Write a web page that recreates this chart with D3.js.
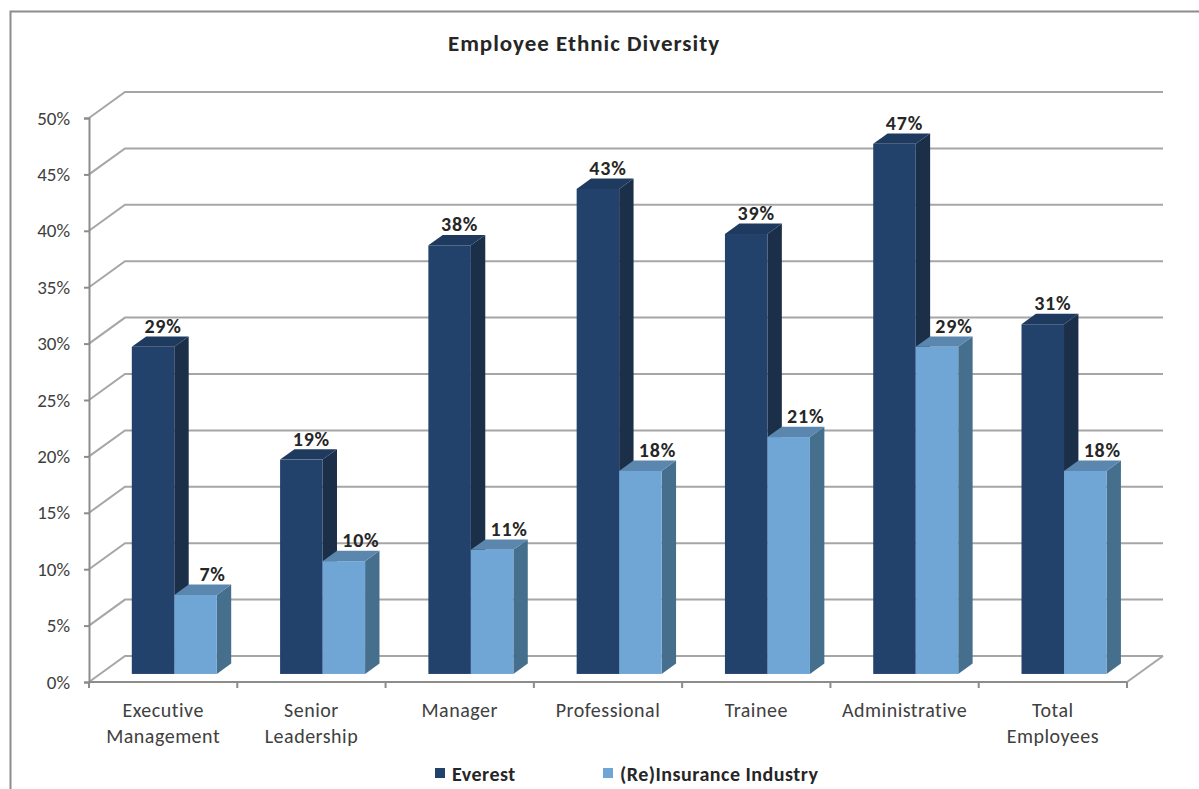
<!DOCTYPE html>
<html>
<head>
<meta charset="utf-8">
<script src="https://cdn.jsdelivr.net/npm/d3@7"></script>
<style>
  body { margin: 0; background: #fff; }
  text { font-family: Carlito, Lato, "Open Sans", sans-serif; }
</style>
</head>
<body>
<script>
// chart values
let categories = [['Executive', 'Management'], ['Senior', 'Leadership'], ['Manager'], ['Professional'],
  ['Trainee'], ['Administrative'], ['Total', 'Employees']]
let everest = [29, 19, 38, 43, 39, 47, 31]
let industry = [7, 10, 11, 18, 21, 29, 18]
let seriesNames = ['Everest', '(Re)Insurance Industry']
let yTicks = [0, 5, 10, 15, 20, 25, 30, 35, 40, 45, 50]

// measurements
let m = {
  width: 1199,
  height: 789,
  left: 89,
  right: 1127,
  top: 118,
  bottom: 682,
  depthX: 36,
  depthY: -26,
  barFront: 0.31,
  barDepth: 0.4,
  barWidth: 42.5,
}

let colors = {
  dark: { front: '#22416b', side: '#1c2f49', top: '#1f3a5f' },
  light: { front: '#70a6d6', side: '#466f8e', top: '#5b86ae' },
}

let svg = d3.select('body')
  .append('svg')
  .attr('width', m.width)
  .attr('height', m.height)

// outer chart border
svg.append('path')
  .attr('d', 'M10.5,789 L10.5,11.5 L1199,11.5')
  .attr('fill', 'none')
  .attr('stroke', '#8c8c8c')
  .attr('stroke-width', 2)

svg.append('text')
  .attr('x', 584)
  .attr('y', 43)
  .attr('text-anchor', 'middle')
  .attr('dominant-baseline', 'central')
  .attr('font-size', 23)
  .attr('font-weight', 'bold')
  .attr('letter-spacing', 1)
  .attr('fill', '#262626')
  .text('Employee Ethnic Diversity')

let yScale = d3.scaleLinear()
  .domain([0, 50])
  .range([m.bottom, m.top])

let xScale = d3.scaleBand()
  .domain(d3.range(categories.length))
  .range([m.left, m.right])

let grid = svg.append('g')

// back wall gridlines with diagonal on the left side wall
yTicks.forEach(function(t) {
  let y = yScale(t)
  grid.append('path')
    .attr('d', 'M' + m.left + ',' + y + ' L' + (m.left + m.depthX) + ',' + (y + m.depthY) +
      ' L' + (m.right + m.depthX) + ',' + (y + m.depthY))
    .attr('fill', 'none')
    .attr('stroke', '#a6a6a6')
    .attr('stroke-width', 2)
})

// floor right edge
grid.append('line')
  .attr('x1', m.right).attr('y1', m.bottom)
  .attr('x2', m.right + m.depthX).attr('y2', m.bottom + m.depthY)
  .attr('stroke', '#a6a6a6')
  .attr('stroke-width', 2)

// y axis
let yAxis = d3.axisLeft(yScale)
  .tickValues(yTicks)
  .tickSize(5)
  .tickFormat(function(d) { return d + '%' })

let yg = svg.append('g')
  .attr('transform', 'translate(' + m.left + ',0)')
  .call(yAxis)
yg.select('.domain').attr('stroke', '#8c8c8c').attr('stroke-width', 2)
yg.selectAll('.tick line').attr('stroke', '#8c8c8c').attr('stroke-width', 2)
yg.selectAll('.tick text')
  .attr('font-size', 19)
  .attr('fill', '#404040')
  .attr('x', -19)
  .style('font-family', 'Carlito, Lato, sans-serif')

// x axis line and ticks
let xg = svg.append('g')
xg.append('line')
  .attr('x1', m.left).attr('x2', m.right)
  .attr('y1', m.bottom).attr('y2', m.bottom)
  .attr('stroke', '#8c8c8c')
  .attr('stroke-width', 2)
d3.range(categories.length + 1).forEach(function(i) {
  let x = m.left + i * xScale.bandwidth()
  xg.append('line')
    .attr('x1', x).attr('x2', x)
    .attr('y1', m.bottom).attr('y2', m.bottom + 6)
    .attr('stroke', '#8c8c8c')
    .attr('stroke-width', 2)
})

// category labels
categories.forEach(function(lines, i) {
  let t = xg.append('text')
    .attr('x', xScale(i) + xScale.bandwidth() / 2)
    .attr('y', 717)
    .attr('text-anchor', 'middle')
    .attr('font-size', 20)
    .attr('letter-spacing', 0.5)
    .attr('fill', '#404040')
  lines.forEach(function(line, j) {
    t.append('tspan')
      .attr('x', xScale(i) + xScale.bandwidth() / 2)
      .attr('dy', j === 0 ? 0 : 26)
      .text(line)
  })
})

// 3d bars
let dx0 = m.depthX * m.barFront
let dy0 = m.depthY * m.barFront
let ddx = m.depthX * m.barDepth
let ddy = m.depthY * m.barDepth

function drawBar(x, value, c) {
  let yb = m.bottom + dy0
  let yt = yScale(value) + dy0
  let g = svg.append('g')
  // side face
  g.append('path')
    .attr('d', 'M' + (x + m.barWidth) + ',' + yb + ' L' + (x + m.barWidth + ddx) + ',' + (yb + ddy) +
      ' L' + (x + m.barWidth + ddx) + ',' + (yt + ddy) + ' L' + (x + m.barWidth) + ',' + yt + 'Z')
    .attr('fill', c.side)
  // top face
  g.append('path')
    .attr('d', 'M' + x + ',' + yt + ' L' + (x + ddx) + ',' + (yt + ddy) +
      ' L' + (x + m.barWidth + ddx) + ',' + (yt + ddy) + ' L' + (x + m.barWidth) + ',' + yt + 'Z')
    .attr('fill', c.top)
  // front face
  g.append('rect')
    .attr('x', x)
    .attr('y', yt)
    .attr('width', m.barWidth)
    .attr('height', yb - yt)
    .attr('fill', c.front)
  return yt
}

function drawLabel(x, yt, value) {
  svg.append('text')
    .attr('x', x)
    .attr('y', yt - 21)
    .attr('text-anchor', 'middle')
    .attr('dominant-baseline', 'central')
    .attr('font-size', 20)
    .attr('font-weight', 'bold')
    .attr('letter-spacing', 0.8)
    .attr('fill', '#262626')
    .text(value + '%')
}

categories.forEach(function(c, i) {
  let center = xScale(i) + xScale.bandwidth() / 2 + dx0
  let x1 = center - m.barWidth
  let x2 = center
  let yt1 = drawBar(x1, everest[i], colors.dark)
  let yt2 = drawBar(x2, industry[i], colors.light)
  drawLabel(x1 + m.barWidth / 2 + 10, yt1, everest[i])
  drawLabel(x2 + m.barWidth / 2 + 17, yt2, industry[i])
})

// legend
let legendX = [435, 603]
let legendColors = [colors.dark.front, colors.light.front]
seriesNames.forEach(function(name, i) {
  svg.append('rect')
    .attr('x', legendX[i])
    .attr('y', 768)
    .attr('width', 10)
    .attr('height', 10)
    .attr('fill', legendColors[i])
  svg.append('text')
    .attr('x', legendX[i] + 17)
    .attr('y', 774)
    .attr('dominant-baseline', 'central')
    .attr('font-size', 20)
    .attr('font-weight', 'bold')
    .attr('letter-spacing', 0.5)
    .attr('fill', '#262626')
    .text(name)
})
</script>
</body>
</html>
